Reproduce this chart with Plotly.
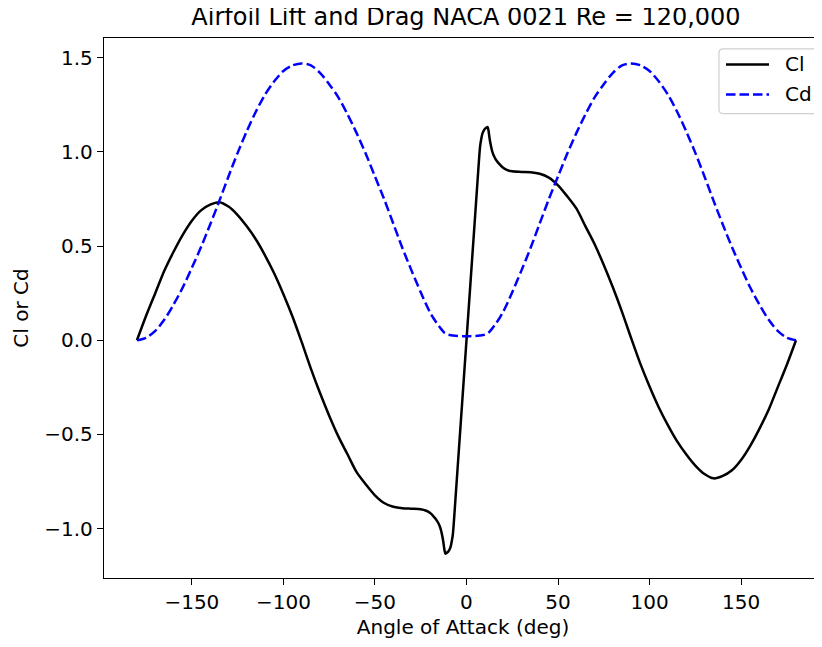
import plotly.graph_objects as go

# angle of attack (deg) and coefficients
ANGLE = [-180, -175, -170, -165, -160, -155, -150, -145, -140, -135, -130, -125, -120, -115,
         -110, -105, -100, -95, -90, -85, -80, -75, -70, -65, -60, -55, -50, -45, -40, -35,
         -30, -25, -22, -20, -18, -16, -15, -14, -13, -12.5, -12, -11.5, -11, -10, -9, -8.5,
         -8, -7.5, -7, -6, -4, -2,
         0,
         2, 4, 6, 7, 7.5, 8, 8.5, 9, 10, 11, 11.5, 12, 12.5, 13, 14, 15, 16, 18, 20, 22, 25,
         30, 35, 40, 45, 50, 55, 60, 65, 70, 75, 80, 85, 90, 95, 100, 105, 110, 115, 120, 125,
         130, 135, 140, 145, 150, 155, 160, 165, 170, 175, 180]

CL = [0.0, 0.13, 0.25, 0.37, 0.47, 0.56, 0.635, 0.69, 0.72, 0.733, 0.71, 0.665, 0.605, 0.535,
      0.45, 0.355, 0.245, 0.125, -0.01, -0.15, -0.28, -0.40, -0.51, -0.605, -0.70, -0.765,
      -0.823, -0.864, -0.884, -0.892, -0.894, -0.897, -0.905, -0.916, -0.935, -0.96, -0.978,
      -1.005, -1.05, -1.08, -1.115, -1.133, -1.13, -1.122, -1.105, -1.09, -1.065, -1.035,
      -0.98, -0.84, -0.56, -0.28,
      0.0,
      0.28, 0.56, 0.84, 0.98, 1.035, 1.065, 1.09, 1.105, 1.122, 1.13, 1.133, 1.115, 1.08, 1.05,
      1.005, 0.978, 0.96, 0.935, 0.916, 0.905, 0.897, 0.894, 0.892, 0.884, 0.864, 0.823, 0.765,
      0.70, 0.605, 0.51, 0.40, 0.28, 0.15, 0.01, -0.125, -0.245, -0.355, -0.45, -0.535, -0.605,
      -0.665, -0.71, -0.733, -0.72, -0.69, -0.635, -0.56, -0.47, -0.37, -0.25, -0.13, 0.0]

CD = [0.0, 0.013, 0.05, 0.11, 0.19, 0.28, 0.385, 0.495, 0.615, 0.74, 0.87, 0.995, 1.11, 1.215,
      1.305, 1.375, 1.43, 1.46, 1.47, 1.46, 1.42, 1.36, 1.29, 1.20, 1.10, 0.99, 0.87, 0.75,
      0.62, 0.49, 0.37, 0.255, 0.19, 0.15, 0.117, 0.088, 0.075, 0.062, 0.05, 0.045, 0.04,
      0.037, 0.034, 0.03, 0.028, 0.027, 0.026, 0.025, 0.025, 0.024, 0.023, 0.022,
      0.022,
      0.022, 0.023, 0.024, 0.025, 0.025, 0.026, 0.027, 0.028, 0.03, 0.034, 0.037, 0.04, 0.045,
      0.05, 0.062, 0.075, 0.088, 0.117, 0.15, 0.19, 0.255, 0.37, 0.49, 0.62, 0.75, 0.87, 0.99,
      1.10, 1.20, 1.29, 1.36, 1.42, 1.46, 1.47, 1.46, 1.43, 1.375, 1.305, 1.215, 1.11, 0.995,
      0.87, 0.74, 0.615, 0.495, 0.385, 0.28, 0.19, 0.11, 0.05, 0.013, 0.0]

SERIES = ["Cl", "Cd"]
COLORS = ["black", "blue"]
DASHES = ["solid", "9.5px,4px"]

FONT = "DejaVu Sans"

fig = go.Figure()
for name, ys, color, dash in zip(SERIES, [CL, CD], COLORS, DASHES):
    fig.add_trace(go.Scatter(x=ANGLE, y=ys, name=name, mode="lines", showlegend=False,
                             line=dict(color=color, width=2.5, dash=dash,
                                       shape="spline", smoothing=0.8)))

axis_common = dict(showgrid=False, zeroline=False, showline=True, linecolor="black",
                   linewidth=1.3, ticks="outside", ticklen=6, tickwidth=1.3, tickcolor="black",
                   tickfont=dict(family=FONT, size=20, color="black"))

fig.update_xaxes(range=[-198, 194.2], dtick=50, tick0=0, mirror=True,
                 title=dict(text="Angle of Attack (deg)", font=dict(family=FONT, size=20, color="black"),
                            standoff=6),
                 **axis_common)
fig.update_yaxes(range=[-1.262, 1.605], dtick=0.5, tick0=0, tickformat=".1f",
                 title=dict(text="Cl or Cd", font=dict(family=FONT, size=20, color="black"),
                            standoff=10),
                 **axis_common)

# matplotlib-style legend box in the upper right (paper coords of the plot area)
bx0, bx1, by0, by1 = 0.8565, 0.9954, 0.860, 0.980
rx, ry = 0.006, 0.008
box = (f"M{bx0 + rx},{by1} L{bx1 - rx},{by1} Q{bx1},{by1} {bx1},{by1 - ry} "
       f"L{bx1},{by0 + ry} Q{bx1},{by0} {bx1 - rx},{by0} L{bx0 + rx},{by0} "
       f"Q{bx0},{by0} {bx0},{by0 + ry} L{bx0},{by1 - ry} Q{bx0},{by1} {bx0 + rx},{by1} Z")
fig.add_shape(type="path", path=box, xref="paper", yref="paper",
              line=dict(color="#d0d0d0", width=1.2), fillcolor="rgba(255,255,255,0.8)")
for i, (name, color, dash) in enumerate(zip(SERIES, COLORS, DASHES)):
    yy = 0.951 - i * 0.0555
    fig.add_shape(type="line", xref="paper", yref="paper", x0=0.8663, x1=0.9262, y0=yy, y1=yy,
                  line=dict(color=color, width=2.5, dash=dash))
    fig.add_annotation(text=name, xref="paper", yref="paper", x=0.945, y=yy, xanchor="left",
                       yanchor="middle", showarrow=False,
                       font=dict(family=FONT, size=20, color="black"))

# page body has an 8px margin, so the figure is sized/offset to land on the reference pixels
fig.update_layout(
    width=814, height=639,
    margin=dict(l=96, r=0, t=30, b=69),
    paper_bgcolor="white", plot_bgcolor="white",
    font=dict(family=FONT, size=20, color="black"),
    title=dict(text="Airfoil Lift and Drag NACA 0021 Re = 120,000", x=458 / 814, xanchor="center",
               y=1, yanchor="top", font=dict(family=FONT, size=24, color="black")),
    showlegend=False,
)

fig.write_html("out.html")
